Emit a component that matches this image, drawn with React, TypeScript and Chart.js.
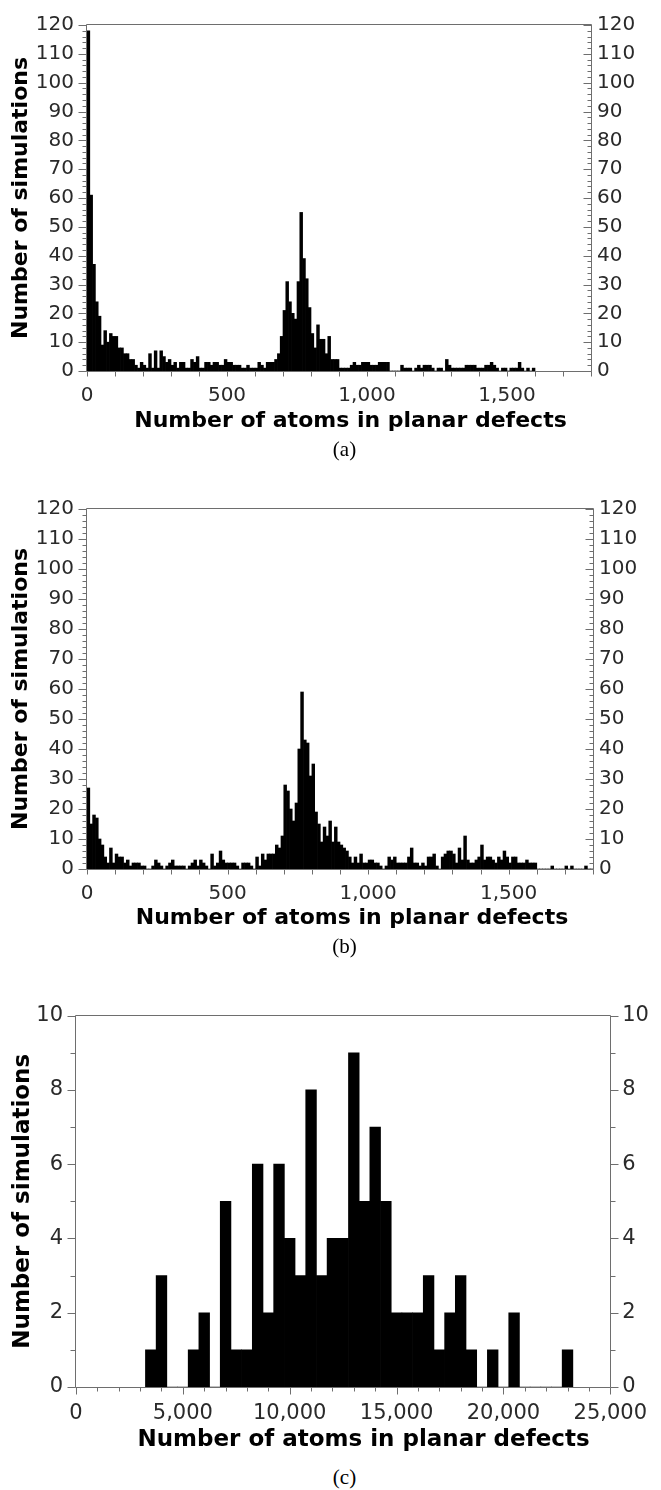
import React, { useEffect, useRef } from 'react';
import { Chart, registerables } from 'chart.js';

Chart.register(...registerables);

// ---------- data ----------
// (a) histogram, bins of 10 atoms starting at 0
const binStartA = 0;
const binWidthA = 10;
const countsA = [
  118, 61, 37, 24, 19, 9, 14, 10, 13, 12,
  12, 8, 8, 6, 6, 4, 4, 2, 1, 3,
  2, 1, 6, 1, 7, 1, 7, 5, 3, 4,
  2, 3, 1, 3, 3, 1, 1, 4, 3, 5,
  1, 1, 3, 3, 2, 3, 3, 2, 2, 4,
  3, 3, 2, 2, 2, 1, 1, 2, 1, 1,
  1, 3, 2, 1, 3, 3, 3, 4, 6, 12,
  21, 31, 24, 20, 18, 31, 55, 39, 32, 22,
  13, 8, 16, 11, 11, 6, 12, 4, 4, 4,
  1, 1, 1, 1, 2, 3, 2, 2, 3, 3,
  3, 2, 2, 2, 3, 3, 3, 3, 0, 0,
  0, 0, 2, 1, 1, 1, 0, 1, 2, 1,
  2, 2, 2, 1, 0, 1, 1, 0, 4, 2,
  1, 1, 1, 1, 1, 2, 2, 2, 2, 1,
  1, 1, 2, 2, 3, 2, 1, 0, 1, 1,
  0, 1, 1, 1, 3, 1, 0, 1, 0, 1,
];

// (b) histogram, bins of 10 atoms starting at 0
const binStartB = 0;
const binWidthB = 10;
const countsB = [
  27, 15, 18, 17, 10, 8, 4, 2, 7, 2,
  5, 4, 4, 2, 3, 1, 2, 2, 2, 1,
  1, 0, 0, 1, 3, 2, 1, 0, 1, 2,
  3, 1, 1, 1, 1, 0, 1, 2, 3, 1,
  3, 2, 1, 0, 5, 1, 2, 6, 3, 2,
  2, 2, 2, 1, 0, 2, 2, 2, 1, 0,
  4, 1, 5, 3, 5, 5, 5, 8, 7, 11,
  28, 26, 20, 16, 22, 40, 59, 43, 42, 31,
  35, 19, 15, 9, 14, 11, 16, 9, 14, 9,
  8, 7, 6, 4, 2, 4, 2, 5, 2, 2,
  3, 3, 2, 2, 1, 0, 1, 4, 3, 4,
  2, 2, 2, 2, 4, 7, 2, 2, 1, 2,
  1, 4, 4, 5, 1, 0, 4, 5, 6, 6,
  5, 2, 7, 3, 11, 3, 2, 2, 3, 4,
  8, 3, 4, 4, 3, 2, 4, 3, 6, 4,
  2, 4, 4, 2, 2, 2, 3, 2, 2, 2,
  0, 0, 0, 0, 0, 1, 0, 0, 0, 0,
  1, 0, 1, 0, 0, 0, 0, 1, 0, 0,
];

// (c) histogram, bins of 500 atoms starting at 3,250
const binStartC = 3250;
const binWidthC = 500;
const countsC = [
  1, 3, 0, 0, 1, 2, 0, 5, 1, 1,
  6, 2, 6, 4, 3, 8, 3, 4, 4, 9,
  5, 7, 5, 2, 2, 2, 3, 1, 2, 3,
  1, 0, 1, 0, 2, 0, 0, 0, 0, 1,
];

const xTicksAB = [0, 500, 1000, 1500];
const yTicksAB = [0, 10, 20, 30, 40, 50, 60, 70, 80, 90, 100, 110, 120];
const xTicksC = [0, 5000, 10000, 15000, 20000, 25000];
const yTicksC = [0, 2, 4, 6, 8, 10];

const xTitle = 'Number of atoms in planar defects';
const yTitle = 'Number of simulations';
const captionA = '(a)';
const captionB = '(b)';
const captionC = '(c)';

// ---------- layout ----------
const W = 661;
const FONT = '"DejaVu Sans", Verdana, sans-serif';
const LABEL_COLOR = '#2a2a2a';
const AXIS_COLOR = '#6e6e6e';

type Panel = {
  top: number;
  height: number;
  area: { left: number; right: number; top: number; bottom: number };
  counts: number[];
  binStart: number;
  binWidth: number;
  xMax: number;
  yMax: number;
  xTicks: number[];
  yTicks: number[];
  xMinor: number;
  yMinor: number;
  tickFont: number;
  titleFont: number;
  xPad: number;
  yLeftPad: number;
  yRightPad: number;
  yTitlePad: number;
  rightInward: boolean;
  yMajLen: number;
  yMinLen: number;
  xMajLen: number;
  xMinLen: number;
  xTitleX: number;
  xTitleY: number;
  caption: string;
  captionY: number;
};

const panels: Panel[] = [
  {
    top: 0, height: 440,
    area: { left: 87, right: 591, top: 14, bottom: 371 },
    counts: countsA, binStart: binStartA, binWidth: binWidthA,
    xMax: 1800, yMax: 120, xTicks: xTicksAB, yTicks: yTicksAB,
    xMinor: 100, yMinor: 2, tickFont: 20, titleFont: 22,
    xPad: 13, yLeftPad: 13, yRightPad: 6, yTitlePad: 8,
    rightInward: true, yMajLen: 8, yMinLen: 4, xMajLen: 5, xMinLen: 5,
    xTitleX: 350.5, xTitleY: 421.5, caption: captionA, captionY: 449,
  },
  {
    top: 480, height: 460,
    area: { left: 87, right: 593, top: 29, bottom: 389 },
    counts: countsB, binStart: binStartB, binWidth: binWidthB,
    xMax: 1800, yMax: 120, xTicks: xTicksAB, yTicks: yTicksAB,
    xMinor: 100, yMinor: 2, tickFont: 20, titleFont: 22,
    xPad: 13, yLeftPad: 13, yRightPad: 6, yTitlePad: 8,
    rightInward: true, yMajLen: 8, yMinLen: 4, xMajLen: 5, xMinLen: 5,
    xTitleX: 352, xTitleY: 918.5, caption: captionB, captionY: 946,
  },
  {
    top: 990, height: 470,
    area: { left: 76, right: 620, top: 21, bottom: 397 },
    counts: countsC, binStart: binStartC, binWidth: binWidthC,
    xMax: 25000, yMax: 10, xTicks: xTicksC, yTicks: yTicksC,
    xMinor: 1000, yMinor: 1, tickFont: 21, titleFont: 23,
    xPad: 14, yLeftPad: 13, yRightPad: 12, yTitlePad: 9,
    rightInward: false, yMajLen: 8, yMinLen: 5, xMajLen: 7, xMinLen: 4,
    xTitleX: 363.5, xTitleY: 1440.5, caption: captionC, captionY: 1477,
  },
];

function makeFramePlugin(p: Panel) {
  return {
    id: 'frameTicks',
    afterDraw(chart: any) {
      const { ctx, chartArea: a, scales } = chart;
      const xs = scales.x;
      const ys = scales.y;
      const L = Math.round(a.left) - 0.5;
      const R = Math.round(a.right) + 0.5;
      const T = Math.round(a.top) - 0.5;
      const B = Math.round(a.bottom) + 0.5;
      ctx.save();
      ctx.strokeStyle = AXIS_COLOR;
      ctx.lineWidth = 1;
      ctx.beginPath();
      ctx.moveTo(L, T); ctx.lineTo(R, T);
      ctx.moveTo(L, T); ctx.lineTo(L, B);
      ctx.moveTo(R, T); ctx.lineTo(R, B);
      ctx.moveTo(L, B); ctx.lineTo(R, B);
      // y ticks
      const ny = Math.round(p.yMax / p.yMinor);
      for (let i = 0; i <= ny; i++) {
        const v = i * p.yMinor;
        const major = p.yTicks.indexOf(v) >= 0;
        const len = major ? p.yMajLen : p.yMinLen;
        const y = Math.round(ys.getPixelForValue(v)) + 0.5;
        ctx.moveTo(L - len, y); ctx.lineTo(L, y);
        if (p.rightInward) { ctx.moveTo(R - len, y); ctx.lineTo(R, y); }
        else { ctx.moveTo(R, y); ctx.lineTo(R + len, y); }
      }
      // x ticks
      const nx = Math.round(p.xMax / p.xMinor);
      for (let i = 0; i <= nx; i++) {
        const v = i * p.xMinor;
        const major = p.xTicks.indexOf(v) >= 0;
        const len = major ? p.xMajLen : p.xMinLen;
        const x = Math.round(xs.getPixelForValue(v)) + 0.5;
        ctx.moveTo(x, B); ctx.lineTo(x, B + len);
      }
      ctx.stroke();
      // x axis title
      ctx.fillStyle = '#000';
      ctx.font = `bold ${p.titleFont}px ${FONT}`;
      ctx.textAlign = 'center';
      ctx.textBaseline = 'middle';
      ctx.fillText(xTitle, p.xTitleX, p.xTitleY - p.top);
      ctx.restore();
    },
  };
}

function HistPanel({ p }: { p: Panel }) {
  const ref = useRef<HTMLCanvasElement | null>(null);
  useEffect(() => {
    if (!ref.current) return;
    const data = p.counts.map((c, i) => ({ x: p.binStart + p.binWidth * (i + 0.5), y: c }));
    const tickFont = { family: FONT, size: p.tickFont };
    const fmt = (v: any) => Number(v).toLocaleString('en-US');
    const chart = new Chart(ref.current, {
      type: 'bar',
      data: {
        datasets: [{
          data: data as any,
          backgroundColor: '#000',
          borderWidth: 0,
          barPercentage: 1,
          categoryPercentage: 1,
          xAxisID: 'x',
          yAxisID: 'y',
        }],
      },
      options: {
        animation: false,
        responsive: false,
        maintainAspectRatio: false,
        events: [],
        layout: { padding: { top: p.area.top, left: 0, right: 0, bottom: 0 } },
        plugins: { legend: { display: false }, tooltip: { enabled: false }, title: { display: false } },
        scales: {
          x: {
            type: 'linear', position: 'bottom', min: 0, max: p.xMax, offset: false,
            grid: { display: false, drawTicks: false, offset: false },
            border: { display: false },
            afterBuildTicks: (s: any) => { s.ticks = p.xTicks.map((v) => ({ value: v })); },
            ticks: { autoSkip: false, maxRotation: 0, minRotation: 0, padding: p.xPad, color: LABEL_COLOR, font: tickFont, callback: fmt },
            afterFit: (s: any) => { s.height = p.height - p.area.bottom; },
          },
          y: {
            type: 'linear', position: 'left', min: 0, max: p.yMax,
            grid: { display: false, drawTicks: false },
            border: { display: false },
            afterBuildTicks: (s: any) => { s.ticks = p.yTicks.map((v) => ({ value: v })); },
            ticks: { autoSkip: false, padding: p.yLeftPad, color: LABEL_COLOR, font: tickFont, callback: fmt },
            title: {
              display: true, text: yTitle, color: '#000',
              font: { family: FONT, size: p.titleFont, weight: 'bold' },
              padding: { top: p.yTitlePad, bottom: 0 },
            },
            afterFit: (s: any) => { s.width = p.area.left; },
          },
          y2: {
            type: 'linear', position: 'right', min: 0, max: p.yMax,
            grid: { display: false, drawTicks: false },
            border: { display: false },
            afterBuildTicks: (s: any) => { s.ticks = p.yTicks.map((v) => ({ value: v })); },
            ticks: { autoSkip: false, padding: p.yRightPad, color: LABEL_COLOR, font: tickFont, callback: fmt },
            afterFit: (s: any) => { s.width = W - p.area.right; },
          },
        },
      } as any,
      plugins: [makeFramePlugin(p)],
    });
    return () => chart.destroy();
  }, [p]);
  return (
    <>
      <canvas
        ref={ref}
        width={W}
        height={p.height}
        style={{ position: 'absolute', left: 0, top: p.top, width: W, height: p.height, display: 'block' }}
      />
      <div
        style={{
          position: 'absolute', left: 344.5, top: p.captionY, transform: 'translate(-50%, -50%)',
          fontFamily: '"Liberation Serif", "Times New Roman", serif', fontSize: 21, lineHeight: 1,
          color: '#000', whiteSpace: 'nowrap',
        }}
      >
        {p.caption}
      </div>
    </>
  );
}

export default function App() {
  return (
    <div style={{ position: 'absolute', left: 0, top: 0, width: W, height: 1490, background: '#fff', overflow: 'hidden' }}>
      {panels.map((p, i) => <HistPanel key={i} p={p} />)}
    </div>
  );
}
